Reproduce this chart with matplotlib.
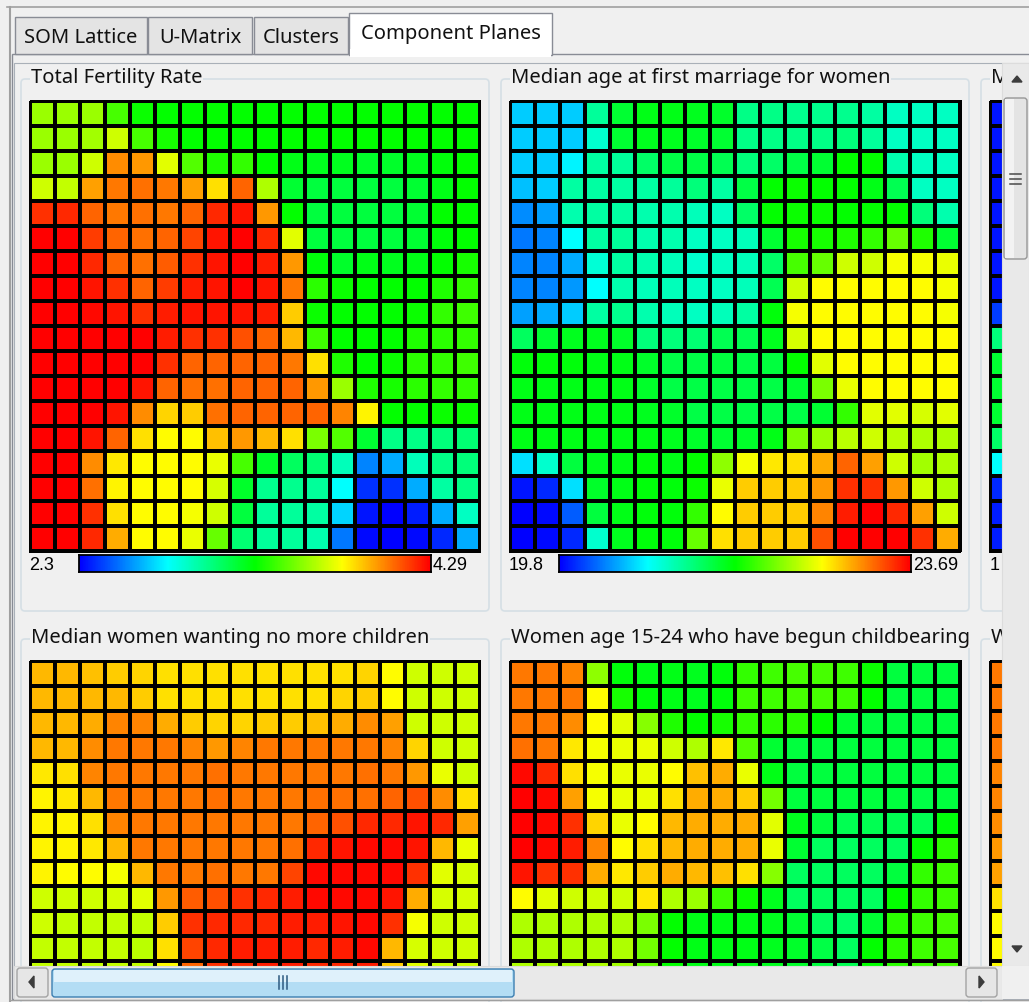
import numpy as np
import matplotlib
matplotlib.use("Agg")
import matplotlib.pyplot as plt
from matplotlib.colors import LinearSegmentedColormap
from matplotlib.patches import FancyBboxPatch, Rectangle, Polygon

W, H = 1029, 1003
CELL = 25  # px per SOM node

# Component plane values, read off the picture as the position on each
# plane's colour scale (0 = blue / minimum, 1 = red / maximum).
fertility = [
    [0.65, 0.65, 0.65, 0.57, 0.51, 0.50, 0.50, 0.50, 0.50, 0.50, 0.50, 0.50, 0.50, 0.50, 0.50, 0.50, 0.50, 0.50],
    [0.65, 0.65, 0.66, 0.70, 0.57, 0.52, 0.50, 0.50, 0.50, 0.50, 0.50, 0.50, 0.50, 0.50, 0.50, 0.50, 0.50, 0.50],
    [0.65, 0.65, 0.70, 0.86, 0.85, 0.72, 0.58, 0.53, 0.55, 0.50, 0.48, 0.47, 0.47, 0.46, 0.46, 0.47, 0.49, 0.50],
    [0.70, 0.69, 0.84, 0.88, 0.89, 0.88, 0.84, 0.78, 0.90, 0.67, 0.45, 0.44, 0.44, 0.44, 0.44, 0.45, 0.48, 0.50],
    [0.95, 0.96, 0.90, 0.88, 0.89, 0.88, 0.90, 0.96, 0.98, 0.85, 0.50, 0.44, 0.44, 0.44, 0.44, 0.45, 0.50, 0.50],
    [1.00, 1.00, 0.94, 0.90, 0.89, 0.90, 0.93, 0.98, 1.00, 0.96, 0.72, 0.44, 0.44, 0.44, 0.44, 0.45, 0.49, 0.50],
    [1.00, 1.00, 0.96, 0.90, 0.89, 0.91, 0.95, 0.98, 1.00, 0.97, 0.85, 0.49, 0.46, 0.48, 0.47, 0.48, 0.50, 0.52],
    [1.00, 1.00, 0.98, 0.95, 0.90, 0.94, 0.97, 0.98, 1.00, 0.98, 0.88, 0.54, 0.51, 0.50, 0.50, 0.50, 0.53, 0.55],
    [1.00, 1.00, 0.99, 0.98, 0.95, 0.97, 0.98, 0.98, 0.98, 0.97, 0.80, 0.51, 0.50, 0.50, 0.50, 0.51, 0.55, 0.56],
    [1.00, 1.00, 1.00, 1.00, 1.00, 0.97, 0.95, 0.95, 0.92, 0.90, 0.82, 0.56, 0.50, 0.50, 0.50, 0.53, 0.54, 0.55],
    [1.00, 1.00, 1.00, 1.00, 1.00, 0.95, 0.90, 0.90, 0.90, 0.90, 0.88, 0.78, 0.53, 0.50, 0.51, 0.54, 0.55, 0.56],
    [1.00, 1.00, 1.00, 1.00, 0.98, 0.90, 0.89, 0.89, 0.90, 0.90, 0.90, 0.85, 0.65, 0.53, 0.52, 0.54, 0.55, 0.55],
    [1.00, 1.00, 1.00, 0.98, 0.86, 0.79, 0.80, 0.89, 0.90, 0.90, 0.90, 0.90, 0.87, 0.76, 0.50, 0.50, 0.51, 0.51],
    [1.00, 1.00, 0.98, 0.90, 0.78, 0.75, 0.75, 0.81, 0.85, 0.82, 0.78, 0.62, 0.58, 0.45, 0.37, 0.37, 0.38, 0.39],
    [1.00, 1.00, 0.86, 0.77, 0.75, 0.75, 0.75, 0.73, 0.57, 0.46, 0.41, 0.39, 0.32, 0.13, 0.17, 0.32, 0.37, 0.38],
    [1.00, 1.00, 0.89, 0.76, 0.75, 0.75, 0.75, 0.71, 0.46, 0.36, 0.36, 0.35, 0.25, 0.05, 0.05, 0.17, 0.34, 0.37],
    [1.00, 1.00, 0.95, 0.78, 0.75, 0.75, 0.74, 0.70, 0.44, 0.35, 0.35, 0.34, 0.21, 0.02, 0.00, 0.03, 0.17, 0.31],
    [1.00, 1.00, 0.96, 0.83, 0.75, 0.75, 0.73, 0.60, 0.39, 0.35, 0.35, 0.33, 0.12, 0.01, 0.00, 0.01, 0.04, 0.17],
]

marriage_age = [
    [0.20, 0.20, 0.20, 0.35, 0.45, 0.48, 0.48, 0.47, 0.46, 0.37, 0.37, 0.36, 0.36, 0.36, 0.34, 0.31, 0.31, 0.31],
    [0.20, 0.20, 0.20, 0.30, 0.45, 0.47, 0.47, 0.46, 0.45, 0.37, 0.37, 0.37, 0.37, 0.38, 0.35, 0.31, 0.31, 0.31],
    [0.20, 0.20, 0.24, 0.34, 0.35, 0.40, 0.43, 0.43, 0.42, 0.38, 0.40, 0.43, 0.45, 0.50, 0.50, 0.33, 0.31, 0.31],
    [0.19, 0.20, 0.34, 0.34, 0.34, 0.34, 0.35, 0.38, 0.34, 0.43, 0.50, 0.51, 0.50, 0.50, 0.48, 0.42, 0.31, 0.31],
    [0.14, 0.16, 0.33, 0.34, 0.34, 0.33, 0.33, 0.32, 0.31, 0.40, 0.50, 0.51, 0.51, 0.50, 0.50, 0.50, 0.38, 0.33],
    [0.12, 0.13, 0.25, 0.34, 0.35, 0.33, 0.33, 0.31, 0.31, 0.32, 0.45, 0.52, 0.52, 0.53, 0.55, 0.60, 0.53, 0.45],
    [0.13, 0.13, 0.17, 0.29, 0.34, 0.33, 0.32, 0.30, 0.31, 0.32, 0.40, 0.57, 0.60, 0.70, 0.70, 0.74, 0.74, 0.73],
    [0.13, 0.13, 0.15, 0.25, 0.33, 0.32, 0.32, 0.31, 0.31, 0.32, 0.42, 0.70, 0.75, 0.75, 0.75, 0.75, 0.75, 0.74],
    [0.16, 0.17, 0.20, 0.34, 0.36, 0.33, 0.32, 0.31, 0.32, 0.34, 0.49, 0.74, 0.75, 0.75, 0.75, 0.75, 0.75, 0.74],
    [0.41, 0.45, 0.47, 0.47, 0.46, 0.38, 0.38, 0.39, 0.42, 0.42, 0.47, 0.71, 0.75, 0.75, 0.75, 0.75, 0.75, 0.75],
    [0.49, 0.49, 0.49, 0.48, 0.48, 0.46, 0.43, 0.43, 0.44, 0.43, 0.44, 0.50, 0.72, 0.75, 0.75, 0.75, 0.75, 0.75],
    [0.48, 0.48, 0.48, 0.48, 0.48, 0.46, 0.43, 0.43, 0.43, 0.43, 0.43, 0.45, 0.62, 0.73, 0.75, 0.75, 0.75, 0.75],
    [0.48, 0.48, 0.48, 0.48, 0.48, 0.47, 0.46, 0.43, 0.43, 0.43, 0.43, 0.43, 0.45, 0.55, 0.72, 0.72, 0.71, 0.72],
    [0.48, 0.48, 0.48, 0.48, 0.48, 0.48, 0.47, 0.46, 0.45, 0.46, 0.48, 0.62, 0.65, 0.68, 0.70, 0.68, 0.67, 0.67],
    [0.22, 0.30, 0.44, 0.47, 0.48, 0.49, 0.48, 0.50, 0.64, 0.74, 0.77, 0.78, 0.83, 0.90, 0.84, 0.70, 0.66, 0.67],
    [0.02, 0.04, 0.22, 0.46, 0.48, 0.49, 0.49, 0.51, 0.73, 0.80, 0.80, 0.80, 0.85, 0.95, 0.95, 0.85, 0.70, 0.67],
    [0.00, 0.01, 0.09, 0.44, 0.48, 0.49, 0.49, 0.55, 0.75, 0.80, 0.80, 0.80, 0.87, 0.97, 1.00, 0.96, 0.84, 0.70],
    [0.00, 0.01, 0.04, 0.30, 0.47, 0.49, 0.49, 0.60, 0.78, 0.80, 0.80, 0.80, 0.92, 1.00, 1.00, 1.00, 0.95, 0.83],
]

# lower row of planes: only the first rows are visible above the scrollbar
no_more_children = [
    [0.82, 0.82, 0.81, 0.80, 0.79, 0.78, 0.78, 0.78, 0.78, 0.78, 0.78, 0.78, 0.78, 0.79, 0.75, 0.70, 0.70, 0.70],
    [0.82, 0.82, 0.82, 0.82, 0.80, 0.78, 0.78, 0.78, 0.78, 0.78, 0.78, 0.78, 0.79, 0.80, 0.75, 0.70, 0.70, 0.70],
    [0.82, 0.82, 0.83, 0.87, 0.87, 0.83, 0.80, 0.79, 0.79, 0.80, 0.80, 0.81, 0.83, 0.86, 0.84, 0.70, 0.70, 0.70],
    [0.82, 0.82, 0.86, 0.88, 0.88, 0.88, 0.87, 0.85, 0.87, 0.88, 0.88, 0.88, 0.88, 0.88, 0.87, 0.79, 0.70, 0.70],
    [0.77, 0.78, 0.87, 0.88, 0.88, 0.88, 0.88, 0.89, 0.88, 0.88, 0.88, 0.88, 0.88, 0.89, 0.88, 0.85, 0.73, 0.70],
    [0.76, 0.77, 0.82, 0.88, 0.88, 0.88, 0.88, 0.89, 0.88, 0.88, 0.88, 0.89, 0.89, 0.89, 0.90, 0.92, 0.86, 0.78],
    [0.76, 0.76, 0.78, 0.87, 0.88, 0.88, 0.88, 0.88, 0.88, 0.88, 0.88, 0.90, 0.92, 0.96, 0.96, 0.98, 0.96, 0.84],
    [0.76, 0.76, 0.77, 0.82, 0.88, 0.88, 0.88, 0.88, 0.88, 0.88, 0.89, 0.96, 0.98, 0.99, 0.99, 0.98, 0.82, 0.73],
    [0.76, 0.75, 0.75, 0.74, 0.82, 0.88, 0.88, 0.89, 0.88, 0.88, 0.93, 0.99, 0.99, 0.99, 0.99, 0.95, 0.72, 0.71],
    [0.70, 0.70, 0.70, 0.71, 0.72, 0.85, 0.91, 0.92, 0.95, 0.96, 0.97, 0.99, 0.99, 0.99, 0.98, 0.83, 0.71, 0.71],
    [0.70, 0.69, 0.69, 0.69, 0.69, 0.80, 0.95, 0.96, 0.96, 0.96, 0.97, 0.97, 0.98, 0.99, 0.95, 0.74, 0.70, 0.70],
    [0.69, 0.69, 0.69, 0.69, 0.68, 0.78, 0.93, 0.96, 0.97, 0.97, 0.97, 0.96, 0.97, 0.99, 0.82, 0.71, 0.70, 0.70],
    [0.69, 0.69, 0.69, 0.69, 0.69, 0.75, 0.90, 0.95, 0.96, 0.97, 0.97, 0.96, 0.96, 0.97, 0.80, 0.72, 0.70, 0.70],
]

begun_childbearing = [
    [0.88, 0.88, 0.87, 0.64, 0.49, 0.48, 0.48, 0.47, 0.49, 0.55, 0.56, 0.57, 0.57, 0.56, 0.51, 0.44, 0.44, 0.44],
    [0.88, 0.88, 0.88, 0.75, 0.52, 0.49, 0.48, 0.47, 0.49, 0.56, 0.56, 0.57, 0.57, 0.56, 0.50, 0.44, 0.44, 0.44],
    [0.88, 0.88, 0.86, 0.75, 0.72, 0.63, 0.53, 0.50, 0.52, 0.55, 0.54, 0.54, 0.50, 0.45, 0.44, 0.44, 0.44, 0.44],
    [0.89, 0.88, 0.77, 0.74, 0.73, 0.73, 0.70, 0.67, 0.77, 0.58, 0.45, 0.44, 0.44, 0.44, 0.44, 0.44, 0.44, 0.44],
    [0.99, 0.96, 0.78, 0.74, 0.73, 0.73, 0.75, 0.81, 0.83, 0.73, 0.48, 0.44, 0.44, 0.44, 0.44, 0.44, 0.44, 0.44],
    [1.00, 0.99, 0.84, 0.74, 0.73, 0.73, 0.78, 0.83, 0.83, 0.80, 0.61, 0.44, 0.44, 0.44, 0.44, 0.44, 0.43, 0.44],
    [1.00, 0.99, 0.95, 0.79, 0.73, 0.75, 0.82, 0.83, 0.83, 0.83, 0.72, 0.47, 0.44, 0.42, 0.42, 0.42, 0.42, 0.49],
    [1.00, 0.99, 0.97, 0.87, 0.75, 0.78, 0.82, 0.83, 0.83, 0.83, 0.73, 0.45, 0.41, 0.41, 0.41, 0.41, 0.50, 0.54],
    [0.98, 0.95, 0.95, 0.83, 0.77, 0.80, 0.83, 0.82, 0.81, 0.78, 0.63, 0.41, 0.41, 0.41, 0.41, 0.44, 0.55, 0.56],
    [0.75, 0.72, 0.70, 0.70, 0.70, 0.77, 0.67, 0.65, 0.56, 0.51, 0.47, 0.41, 0.41, 0.41, 0.41, 0.50, 0.55, 0.56],
    [0.67, 0.67, 0.67, 0.67, 0.67, 0.62, 0.50, 0.48, 0.48, 0.48, 0.47, 0.45, 0.41, 0.40, 0.45, 0.54, 0.56, 0.57],
    [0.67, 0.67, 0.67, 0.67, 0.67, 0.61, 0.50, 0.48, 0.48, 0.48, 0.47, 0.46, 0.43, 0.41, 0.50, 0.54, 0.56, 0.57],
    [0.67, 0.67, 0.67, 0.67, 0.66, 0.60, 0.50, 0.48, 0.48, 0.48, 0.47, 0.46, 0.44, 0.42, 0.50, 0.54, 0.56, 0.57],
]

# third column of planes is cut off by the scrollbar: only its first node column shows
third_top_col = [0.02, 0.02, 0.02, 0.02, 0.02, 0.02, 0.02, 0.02, 0.06, 0.38, 0.45, 0.45, 0.45, 0.40, 0.25, 0.04, 0.03, 0.03]
third_bottom_col = [0.88, 0.88, 0.88, 0.88, 0.87, 0.87, 0.86, 0.85, 0.84, 0.78, 0.75, 0.75, 0.75]

titles_top = ["Total Fertility Rate", "Median age at first marriage for women", "M"]
titles_bottom = ["Median women wanting no more children",
                 "Women age 15-24 who have begun childbearing", "W"]
range_labels = [("2.3", "4.29"), ("19.8", "23.69"), ("1", None)]
tabs = ["SOM Lattice", "U-Matrix", "Clusters", "Component Planes"]

cmap = LinearSegmentedColormap.from_list(
    "som", ["#0000ff", "#00ffff", "#00ff00", "#ffff00", "#ff0000"])

UI_FONT = ["Noto Sans", "DejaVu Sans"]
SMALL_FONT = ["Liberation Sans Narrow", "Liberation Sans", "DejaVu Sans"]
UI_SIZE = 14.5
SMALL_SIZE = 13
BG = "#f0f0f0"

fig = plt.figure(figsize=(W / 100, H / 100), dpi=100, facecolor=BG)


def px_axes(x0, y0, x1, y1):
    """Axes placed by pixel box (top-left origin)."""
    return fig.add_axes([x0 / W, 1 - y1 / H, (x1 - x0) / W, (y1 - y0) / H])


base = px_axes(0, 0, W, H)
base.set_xlim(0, W)
base.set_ylim(H, 0)
base.axis("off")

# window frame + tab pane
base.plot([7, W], [8, 8], color="#a0a0a0", lw=1.2)
base.plot([10, 10], [8, H], color="#a0a0a0", lw=1.5)
base.add_patch(Rectangle((11.5, 55), W, 945, facecolor=BG, edgecolor="#898c95", lw=1))
base.add_patch(Rectangle((13.5, 63.5), W, 936, facecolor=BG, edgecolor="#a9b0b8", lw=0.8))

tab_boxes = [(15, 147), (148, 252), (254, 348), (349, 552)]
for i, (name, (tx0, tx1)) in enumerate(zip(tabs, tab_boxes)):
    sel = i == len(tabs) - 1
    ty0 = 14 if sel else 18
    ty1 = 56 if sel else 55
    base.add_patch(Rectangle((tx0, ty0), tx1 - tx0, ty1 - ty0,
                             facecolor="#ffffff" if sel else "#e4e4e4",
                             edgecolor="#898c95", lw=1, zorder=3))
    if sel:
        base.add_patch(Rectangle((tx0 + 0.8, 50), tx1 - tx0 - 1.6, 8,
                                 facecolor="#ffffff", edgecolor="none", zorder=4))
    base.text((tx0 + tx1) / 2, (ty0 + ty1) / 2 + (-1 if sel else 1), name, ha="center", va="center",
              fontsize=UI_SIZE, family=UI_FONT, color="#111111", zorder=5)

# group boxes
col_x = [21, 501, 981]
for row_y, titles, bottom in [(80, titles_top, 612), (640, titles_bottom, 1040)]:
    for cx, title in zip(col_x, titles):
        base.add_patch(FancyBboxPatch((cx, row_y), 468, bottom - row_y,
                                      boxstyle="round,pad=0,rounding_size=4",
                                      facecolor="none", edgecolor="#d5dfe5", lw=1.2))
        base.text(cx + 10, row_y - 2, title, ha="left", va="center", fontsize=UI_SIZE,
                  family=UI_FONT, color="#111111",
                  bbox=dict(facecolor=BG, edgecolor="none", pad=0.5))


def plane(x0, y0, vals, vis_w, vis_h):
    vals = np.array(vals, dtype=float)
    if vals.ndim == 1:
        vals = vals[:, None]
    ax = px_axes(x0 - 1.5, y0 - 1.5, x0 + vis_w, y0 + vis_h)
    ax.pcolormesh(vals, cmap=cmap, vmin=0, vmax=1, edgecolors="black", linewidth=1.5)
    ax.set_xlim(-1.5 / CELL, vis_w / CELL)
    ax.set_ylim(vis_h / CELL, -1.5 / CELL)
    ax.axis("off")


def colorbar(x0, y0, lo, hi):
    ax = px_axes(x0, y0, x0 + 352, y0 + 17)
    ax.imshow(np.linspace(0, 1, 400)[None, :], cmap=cmap, aspect="auto")
    ax.set_xticks([])
    ax.set_yticks([])
    for s in ax.spines.values():
        s.set_linewidth(1.3)
        s.set_color("black")
    base.text(x0 - 50, y0 + 9, lo, ha="left", va="center", fontsize=SMALL_SIZE, family=SMALL_FONT)
    if hi:
        base.text(x0 + 354, y0 + 9, hi, ha="left", va="center", fontsize=SMALL_SIZE, family=SMALL_FONT)


grid_x = [30, 510, 990]
full = 18 * CELL + 1.5
plane(grid_x[0], 102, fertility, full, full)
plane(grid_x[1], 102, marriage_age, full, full)
plane(grid_x[2], 102, third_top_col, 1002 - grid_x[2], full)
for gx, (lo, hi) in zip(grid_x, range_labels):
    if hi:
        colorbar(gx + 49, 556, lo, hi)
    else:
        base.text(gx, 565, lo, ha="left", va="center", fontsize=SMALL_SIZE, family=SMALL_FONT)

vis_bottom = 967 - 662
plane(grid_x[0], 662, no_more_children, full, vis_bottom)
plane(grid_x[1], 662, begun_childbearing, full, vis_bottom)
plane(grid_x[2], 662, third_bottom_col, 1002 - grid_x[2], vis_bottom)

# scrollbars drawn on top
top = px_axes(0, 0, W, H)
top.set_xlim(0, W)
top.set_ylim(H, 0)
top.axis("off")
top.set_zorder(10)

# vertical
top.add_patch(Rectangle((1002, 64), 27, 903, facecolor="#e9e9e9", edgecolor="#dcdcdc", lw=0.8))
top.add_patch(Polygon([(1012, 83), (1022, 83), (1017, 77)], color="#3c3c3c"))
top.add_patch(FancyBboxPatch((1004, 99), 23, 161, boxstyle="round,pad=0,rounding_size=3",
                             facecolor="#e4e4e4", edgecolor="#979797", lw=1))
top.add_patch(Rectangle((1005, 100), 9, 159, facecolor="#f3f3f3", edgecolor="none"))
for gy in (175, 180, 185):
    top.plot([1010, 1021], [gy, gy], color="#4a4a4a", lw=1.1)
top.add_patch(Polygon([(1012, 947), (1022, 947), (1017, 953)], color="#3c3c3c"))

# horizontal
top.add_patch(Rectangle((13.5, 967), 988.5, 33, facecolor="#e9e9e9", edgecolor="#dcdcdc", lw=0.8))
top.add_patch(Rectangle((1002, 967), 27, 33, facecolor=BG, edgecolor="none"))
for bx in (17, 966):
    top.add_patch(FancyBboxPatch((bx, 969), 31, 29, boxstyle="round,pad=0,rounding_size=3",
                                 facecolor="#e6e6e6", edgecolor="#a3a3a3", lw=1))
top.add_patch(Polygon([(29, 983), (34, 977), (34, 989)], color="#3c3c3c"))
top.add_patch(Polygon([(984, 983), (979, 977), (979, 989)], color="#3c3c3c"))
top.add_patch(FancyBboxPatch((52, 970), 462, 28, boxstyle="round,pad=0,rounding_size=3",
                             facecolor="#b3ddf4", edgecolor="#3c7fb1", lw=1))
top.add_patch(Rectangle((54, 971), 458, 12, facecolor="#dff1fb", edgecolor="none"))
for gx in (279, 283, 287):
    top.plot([gx, gx], [977, 990], color="#2d5a80", lw=1.1)
top.plot([10, W], [1000.5, 1000.5], color="#a0a0a0", lw=1)

fig.savefig("out.png", dpi=100, facecolor=BG)
